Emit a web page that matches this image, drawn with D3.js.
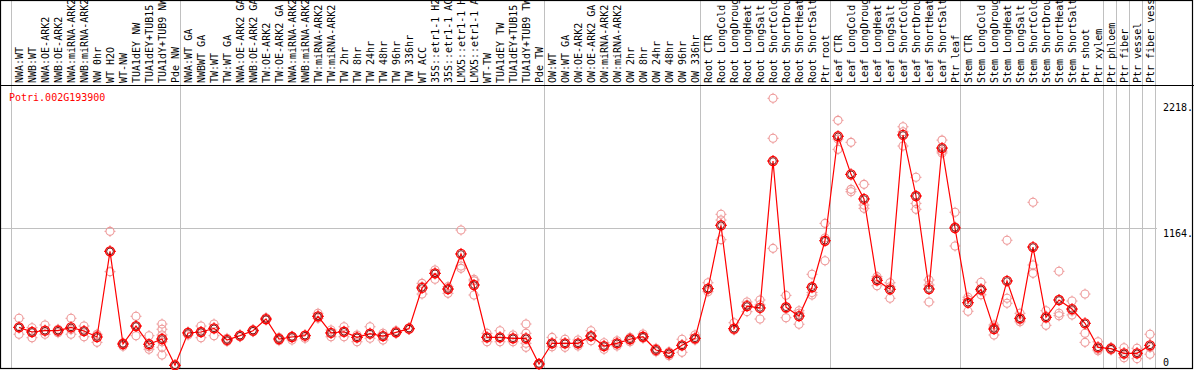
<!DOCTYPE html>
<html>
<head>
<meta charset="utf-8">
<script src="https://cdn.jsdelivr.net/npm/d3@7"></script>
<style>
html,body{margin:0;padding:0;background:#fff;}
svg{display:block;}
text{font-family:"DejaVu Sans Mono",monospace;font-size:10px;}
</style>
</head>
<body>
<svg id="chart" width="1194" height="370"></svg>
<script>
const title = "Potri.002G193900";
const categories = ["NWA:WT","NWB:WT","NWA:OE-ARK2","NWB:OE-ARK2","NWA:miRNA-ARK2","NWB:miRNA-ARK2","NW 0hr","WT H2O","WT-NW","TUA1dEY NW","TUA1dEY+TUB15","TUA1dY+TUB9 NW","Pde NW",
"NWA:WT GA","NWBWT GA","TW:WT","TW:WT GA","NWA:OE-ARK2 GA","NWB:OE-ARK2 GA","TW:OE-ARK2","TW:OE-ARK2 GA","NWA:miRNA-ARK2","NWB:miRNA-ARK2","TW:miRNA-ARK2","TW:miRNA-ARK2","TW 2hr","TW 8hr","TW 24hr","TW 48hr","TW 96hr","TW 336hr","WT ACC","35S::etr1-1 H2","35S::etr1-1 AC","LMX5::etr1-1 H","LMX5::etr1-1 A","WT-TW","TUA1dEY TW","TUA1dEY+TUB15","TUA1dY+TUB9 TW","Pde TW",
"OW:WT","OW:WT GA","OW:OE-ARK2","OW:OE-ARK2 GA","OW:miRNA-ARK2","OW:miRNA-ARK2","OW 2hr","OW 8hr","OW 24hr","OW 48hr","OW 96hr","OW 336hr",
"Root CTR","Root LongCold","Root LongDroug","Root LongHeat","Root LongSalt","Root ShortCold","Root ShortDrou","Root ShortHeat","Root ShortSalt","Ptr root",
"Leaf CTR","Leaf LongCold","Leaf LongDroug","Leaf LongHeat","Leaf LongSalt","Leaf ShortCold","Leaf ShortDrou","Leaf ShortHeat","Leaf ShortSalt","Ptr leaf",
"Stem CTR","Stem LongCold","Stem LongDroug","Stem LongHeat","Stem LongSalt","Stem ShortCold","Stem ShortDrou","Stem ShortHeat","Stem ShortSalt","Ptr shoot","Ptr xylem",
"Ptr phloem","Ptr fiber","Ptr vessel","Ptr fiber vess"];

const means = [329,290,301,301,329,298,248,968,189,340,187,231,10,
282,290,321,223,259,301,399,231,248,259,422,282,292,245,276,256,287,318,660,783,651,946,685,245,245,237,237,21,
195,195,195,256,172,195,229,250,139,111,178,237,
654,1187,318,508,492,1727,498,424,666,1057,
1935,1615,1408,724,649,1946,1433,651,1836,1164,
536,649,315,719,405,1004,413,559,483,363,161,
150,111,111,178];

const replicates = [[405,329,271],[326,290,242],[349,301,271],[313,301,284],[405,310,271],[340,298,250],[271,265,203],[1136,968,797],[200,189,170],[422,340,259],[259,166,145],[357,313,265,208,161,97],[10,10,10],
[290,282,265],[340,290,242],[357,321,259],[237,223,210],[265,259,250],[310,301,292],[410,399,390],[245,231,217],[255,248,223],[265,259,237],[447,422,405],[307,282,250],[334,292,250],[265,245,208],[334,276,237],[279,256,223],[301,287,280],[325,318,312],[699,672,609],[811,783,733],[671,651,615],[1147,845,825],[733,720,601],[279,245,208],[301,245,208],[265,237,208],[357,279,195,161],[21,21,21],
[245,195,166],[229,195,161],[223,195,172],[301,256,217],[200,172,145],[217,195,172],[245,229,208],[273,250,237],[153,139,124],[124,111,91],[229,178,119],[265,237,223],
[704,654,629],[1279,1231,1066],[368,318,307],[542,520,461],[559,518,399],[2254,1918,993],[598,486,410],[469,448,355],[775,622,601],[1203,1080,889],
[2069,1911,1825],[1884,1489,1469],[1531,1357,1329],[755,738,679],[704,670,573],[2015,1973,1853],[1590,1371,1321],[727,685,542],[1903,1810,1795],[1296,1175,1013],
[582,562,464],[708,636,603],[349,331,265],[1061,573,531],[447,392,376],[1380,853,783],[469,424,346],[800,447,427],[550,466,433],[609,279,203],[208,145,133],
[161,150,139],[158,100,74],[153,114,66],[271,160,103]];

const yTicks = [0, 1164, 2218];
const groupBreaks = [0, 13, 41, 53, 63, 73, 84, 85, 86, 87, 88];

const W = 1194, H = 370;
const svg = d3.select("#chart");

const idx = d3.range(categories.length);
const x = d3.scaleBand().domain(idx).range([10.5, 1154.5]).paddingInner(0).paddingOuter(0);
const px = i => x(i) + 8.5;
const y = d3.scaleLinear().domain([0, 2218]).range([366.5, 102.6]);
const breakX = i => i < categories.length ? x(i) : x.range()[1];

// vertical group gridlines
svg.append("g").selectAll("line").data(groupBreaks).join("line")
  .attr("x1", d => Math.round(breakX(d)) + 0.5).attr("x2", d => Math.round(breakX(d)) + 0.5)
  .attr("y1", 0).attr("y2", 369)
  .attr("stroke", "#c0c0c0").attr("stroke-width", 1);

// horizontal gridline at middle tick
svg.append("g").selectAll("line").data(yTicks.filter(t => t > 0 && t < 2218)).join("line")
  .attr("x1", 1).attr("x2", 1157)
  .attr("y1", d => Math.round(y(d)) + 0.5).attr("y2", d => Math.round(y(d)) + 0.5)
  .attr("stroke", "#c0c0c0").attr("stroke-width", 1);

// frame
svg.append("rect").attr("x", 0.5).attr("y", 0.5).attr("width", W - 2).attr("height", H - 2)
  .attr("fill", "none").attr("stroke", "#000").attr("stroke-width", 1.2);
svg.append("line").attr("x1", 0).attr("x2", W).attr("y1", 85.5).attr("y2", 85.5)
  .attr("stroke", "#000").attr("stroke-width", 1.2);

// category labels (rotated)
svg.append("g").selectAll("text").data(idx).join("text")
  .attr("transform", i => `translate(${px(i)},83) rotate(-90)`)
  .attr("text-anchor", "start").attr("dy", "0.36em")
  .attr("fill", "#000")
  .text(i => categories[i]);

// right axis labels
svg.append("g").selectAll("text").data(yTicks).join("text")
  .attr("x", 1163)
  .attr("y", d => Math.min(y(d) + 8.5, 366))
  .attr("fill", "#000")
  .text(d => d === 0 ? "0" : d + ".");

// title
svg.append("text").attr("x", 9).attr("y", 101).attr("fill", "#ff0000").text(title);

// markers
const tickDirs = [[0,-1],[0,1],[-1,0],[1,0]];
function marker(g, cx, cy, r, color, sw) {
  g.append("circle").attr("cx", cx).attr("cy", cy).attr("r", r)
    .attr("fill", "none").attr("stroke", color).attr("stroke-width", sw);
  tickDirs.forEach(([dx, dy]) => {
    g.append("line")
      .attr("x1", cx + dx * r).attr("y1", cy + dy * r)
      .attr("x2", cx + dx * (r + 1.5)).attr("y2", cy + dy * (r + 1.5))
      .attr("stroke", color).attr("stroke-width", 1);
  });
}

// replicate markers
const repG = svg.append("g");
idx.forEach(i => replicates[i].forEach(v => marker(repG, px(i), y(v), 4, "#ee9a9a", 1.1)));

// mean line
const line = d3.line().x((d, i) => px(i)).y(d => y(d));
svg.append("path").datum(means).attr("d", line)
  .attr("fill", "none").attr("stroke", "#ff0000").attr("stroke-width", 1.2);

// mean markers
const meanG = svg.append("g");
means.forEach((v, i) => {
  const cx = px(i), cy = y(v);
  marker(meanG, cx, cy, 4.5, "#ff0000", 1.3);
  meanG.append("circle").attr("cx", cx).attr("cy", cy).attr("r", 3.3)
    .attr("fill", "none").attr("stroke", "#700000").attr("stroke-width", 0.9);
});
</script>
</body>
</html>
